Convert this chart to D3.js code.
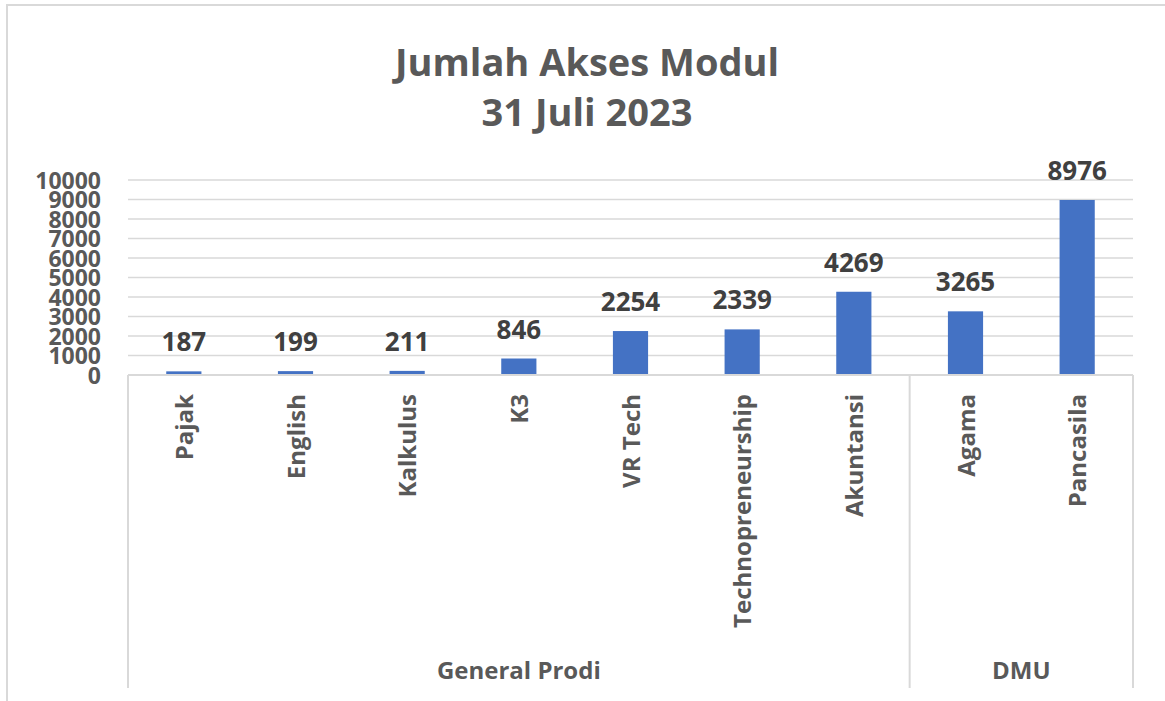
<!DOCTYPE html>
<html lang="en">
<head>
    <meta charset="UTF-8">
    <title>Jumlah Akses Modul</title>
    <style>
        body { margin: 0; background: white; }
        svg { display: block; font-family: "Open Sans", sans-serif; }
    </style>
</head>
<body>
<svg></svg>
<script src="https://cdn.jsdelivr.net/npm/d3@7"></script>
<script>
    // DATA
    const modules = ["Pajak", "English", "Kalkulus", "K3", "VR Tech", "Technopreneurship", "Akuntansi", "Agama", "Pancasila"];
    const groupOf = ["General Prodi", "General Prodi", "General Prodi", "General Prodi", "General Prodi", "General Prodi", "General Prodi", "DMU", "DMU"];
    const access = [187, 199, 211, 846, 2254, 2339, 4269, 3265, 8976];
    const groups = ["General Prodi", "DMU"];
    const yTicks = [0, 1000, 2000, 3000, 4000, 5000, 6000, 7000, 8000, 9000, 10000];
    const titleLines = ["Jumlah Akses Modul", "31 Juli 2023"];

    const data = modules.map((m, i) => ({name: m, group: groupOf[i], value: access[i]}));

    // CHART dimensions
    const dim = {width: 1165, height: 701};
    const plot = {left: 128, right: 1133, top: 180, bottom: 375, axisEnd: 688};
    const grey = "#595959";
    const lineGrey = "#d9d9d9";

    const svg = d3.select("svg").attr("width", dim.width).attr("height", dim.height);

    // outer frame (only left and top edge visible)
    svg.append("path")
        .attr("d", `M7,${dim.height} V5 H${dim.width}`)
        .attr("fill", "none")
        .attr("stroke", lineGrey)
        .attr("stroke-width", 2);

    // SCALES
    const x = d3.scaleBand()
                .domain(modules)
                .range([plot.left, plot.right])
                .paddingInner(0.685)
                .paddingOuter(0.3425);
    const y = d3.scaleLinear()
                .domain([0, 10000])
                .range([plot.bottom, plot.top]);

    // title
    svg.append("g").selectAll("text")
        .data(titleLines)
        .join("text")
            .attr("x", 587)
            .attr("y", (d, i) => 76 + i * 50)
            .attr("text-anchor", "middle")
            .attr("font-size", 38)
            .attr("font-weight", "bold")
            .attr("fill", grey)
            .text(d => d);

    // gridlines
    svg.append("g").selectAll("line")
        .data(yTicks.slice(1))
        .join("line")
            .attr("x1", plot.left).attr("x2", plot.right)
            .attr("y1", d => y(d)).attr("y2", d => y(d))
            .attr("stroke", lineGrey)
            .attr("stroke-width", 1.5);

    // y axis labels (tightly stacked, as in the original)
    const yAxis = svg.append("g")
        .attr("transform", `translate(${plot.left - 27},0)`)
        .call(d3.axisLeft(y).tickValues(yTicks).tickSize(0).tickPadding(0).tickFormat(d3.format("d")));
    yAxis.select(".domain").remove();
    yAxis.selectAll("text")
        .attr("font-family", "Open Sans, sans-serif")
        .attr("font-size", 23)
        .attr("font-weight", "bold")
        .attr("fill", grey)
        .attr("dy", "0.36em");

    // bars
    svg.append("g").selectAll("rect")
        .data(data)
        .join("rect")
            .attr("x", d => x(d.name))
            .attr("width", x.bandwidth())
            .attr("y", d => y(d.value))
            .attr("height", d => y(0) - y(d.value))
            .attr("fill", "#4472c4");

    // value labels
    svg.append("g").selectAll("text")
        .data(data)
        .join("text")
            .attr("x", d => x(d.name) + x.bandwidth() / 2)
            .attr("y", d => y(d.value) - 20)
            .attr("text-anchor", "middle")
            .attr("font-size", 26)
            .attr("font-weight", "bold")
            .attr("fill", "#404040")
            .text(d => d.value);

    // category axis: horizontal line + group separators
    const step = x.step();
    const groupRanges = groups.map(g => {
        const idx = data.map((d, i) => d.group === g ? i : -1).filter(i => i >= 0);
        const x0 = plot.left + d3.min(idx) * step;
        const x1 = plot.left + (d3.max(idx) + 1) * step;
        return {name: g, x0, x1};
    });

    svg.append("line")
        .attr("x1", plot.left).attr("x2", plot.right)
        .attr("y1", plot.bottom).attr("y2", plot.bottom)
        .attr("stroke", lineGrey).attr("stroke-width", 2);

    const seps = [plot.left].concat(groupRanges.map(g => g.x1));
    svg.append("g").selectAll("line")
        .data(seps)
        .join("line")
            .attr("x1", d => d).attr("x2", d => d)
            .attr("y1", plot.bottom).attr("y2", plot.axisEnd)
            .attr("stroke", lineGrey).attr("stroke-width", 2);

    // rotated category labels
    svg.append("g").selectAll("text")
        .data(data)
        .join("text")
            .attr("transform", d => `translate(${x(d.name) + x.bandwidth() / 2 + 9},394) rotate(-90)`)
            .attr("text-anchor", "end")
            .attr("font-size", 24)
            .attr("font-weight", "bold")
            .attr("fill", grey)
            .text(d => d.name);

    // group labels
    svg.append("g").selectAll("text")
        .data(groupRanges)
        .join("text")
            .attr("x", d => (d.x0 + d.x1) / 2)
            .attr("y", 679)
            .attr("text-anchor", "middle")
            .attr("font-size", 24)
            .attr("font-weight", "bold")
            .attr("fill", grey)
            .text(d => d.name);
</script>
</body>
</html>
